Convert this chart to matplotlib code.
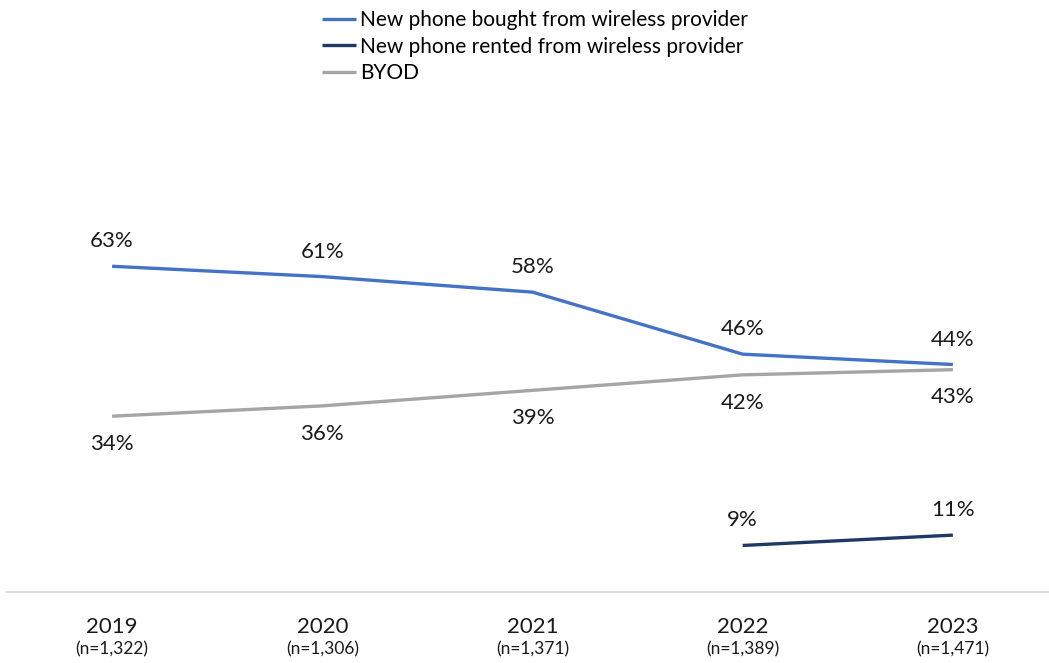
import matplotlib.pyplot as plt
from matplotlib import transforms

years = ["2019", "2020", "2021", "2022", "2023"]
sample_sizes = ["(n=1,322)", "(n=1,306)", "(n=1,371)", "(n=1,389)", "(n=1,471)"]
bought = [63, 61, 58, 46, 44]
rented_years = [3, 4]
rented = [9, 11]
byod = [34, 36, 39, 42, 43]

c_bought = "#4472C4"
c_rented = "#203864"
c_byod = "#A5A5A5"

plt.rcParams["font.family"] = ["Lato", "DejaVu Sans"]

fig = plt.figure(figsize=(10.49, 6.63), dpi=100)
ax = fig.add_axes([7 / 1049, 0.1071, 1051 / 1049, 0.7798])

x = list(range(len(years)))
ax.plot(x, bought, color=c_bought, lw=2.4, label="New phone bought from wireless provider",
        solid_capstyle="butt")
ax.plot(rented_years, rented, color=c_rented, lw=2.4, label="New phone rented from wireless provider",
        solid_capstyle="butt")
ax.plot(x, byod, color=c_byod, lw=2.4, label="BYOD", solid_capstyle="butt")

# value labels: above for bought/rented, below for BYOD
lbl = dict(textcoords="offset points", ha="center", va="center", fontsize=16, color="#1a1a1a")
for xi, v in zip(x, bought):
    ax.annotate(f"{v}%", (xi, v), xytext=(0, 18), **lbl)
for xi, v in zip(rented_years, rented):
    ax.annotate(f"{v}%", (xi, v), xytext=(0, 18), **lbl)
for xi, v in zip(x, byod):
    ax.annotate(f"{v}%", (xi, v), xytext=(0, -20), **lbl)

ax.set_xlim(-0.5, 4.5)
ax.set_ylim(0, 100)
ax.set_xticks([])
ax.set_yticks([])
for side in ["top", "right", "left"]:
    ax.spines[side].set_visible(False)
ax.spines["bottom"].set_color("#D9D9D9")
ax.spines["bottom"].set_linewidth(1.3)

# category labels under the axis
trans = transforms.blended_transform_factory(ax.transData, fig.transFigure)
for xi, yr, n in zip(x, years, sample_sizes):
    ax.text(xi, 1 - 627 / 663, yr, transform=trans, ha="center", va="center",
            fontsize=16, color="#1a1a1a")
    ax.text(xi, 1 - 649 / 663, n, transform=trans, ha="center", va="center",
            fontsize=12.5, color="#1a1a1a")

fig.legend(loc="upper left", bbox_to_anchor=(314 / 1049, 1 - 2 / 663), frameon=False,
           fontsize=15, handlelength=1.6, handletextpad=0.2, labelspacing=0.3,
           borderaxespad=0)

fig.savefig("out.png", dpi=100)
